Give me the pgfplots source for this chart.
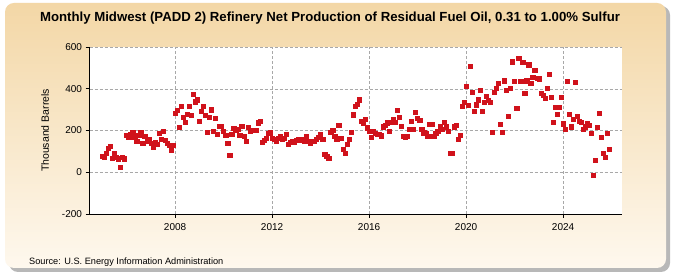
\documentclass[border=0pt]{standalone}
\usepackage{fontspec}
\setmainfont{Liberation Sans}
\usepackage{pgfplots}
\pgfplotsset{compat=1.18}
\usepackage{pgfplotstable}
\definecolor{eiared}{HTML}{D0121B}
\definecolor{paneltop}{HTML}{F3D7A6}
\definecolor{panelbot}{HTML}{FEF8EE}
\definecolor{gridgray}{HTML}{A8A8A8}

% monthly values, thousand barrels
\pgfplotstableread{
yr   m1  m2  m3  m4  m5  m6  m7  m8  m9  m10 m11 m12
2005 77  72  92  114 125 68  90  71  65  25  72  65
2006 179 168 184 192 168 149 176 192 138 173 149 160
2007 138 120 144 133 186 159 197 154 138 128 106 128
2008 281 296 216 316 264 240 278 316 273 374 338 348
2009 245 292 316 272 192 264 300 197 259 181 221 221
2010 197 178 140 82  182 211 202 208 178 219 173 149
2011 216 198 202 202 202 237 246 144 154 163 186 189
2012 163 160 149 163 173 157 163 181 133 144 147 144
2013 154 159 152 160 149 173 149 138 147 149 160 168
2014 181 159 85  78  68  192 202 173 160 224 165 110
2015 90  133 159 192 276 316 327 348 245 237 253 213
2016 197 168 197 186 184 181 175 218 224 237 197 240
2017 253 240 297 264 221 173 168 173 205 245 208 288
2018 259 248 208 189 186 171 230 230 173 186 198 218
2019 205 240 218 197 90  90  218 224 157 176 316 335
2020 412 322 507 383 292 324 348 393 292 335 364 345
2021 335 192 383 402 428 229 192 439 393 268 402 530
2022 436 307 545 436 526 378 439 515 428 455 487 450
2023 448 380 370 354 402 469 358 240 311 278 311 358
2024 233 208 436 278 218 253 431 268 245 240 208 218
2025 233 225 186 -15 57  216 283 168 92  73  186 111
}\prodtab

\begin{document}
\begin{tikzpicture}
\useasboundingbox (0pt,0pt) rectangle (675pt,275pt);
\fill[white] (0pt,0pt) rectangle (675pt,275pt);
% panel with drop shadow
\fill[black!28, rounded corners=9pt] (9pt,3pt) rectangle (670pt,269pt);
\shade[top color=paneltop, bottom color=panelbot, rounded corners=9pt]
  (5pt,7pt) rectangle (666pt,272pt);

\node[font=\bfseries\fontsize{13.2}{15}\selectfont] at (330pt,256.5pt)
  {Monthly Midwest (PADD 2) Refinery Net Production of Residual Fuel Oil, 0.31 to 1.00\% Sulfur};
\node[font=\fontsize{9.2}{11}\selectfont, anchor=west, inner sep=0pt] at (29pt,13pt)
  {Source: U.S. Energy Information Administration};
\node[font=\fontsize{10.5}{12}\selectfont, rotate=90] at (45pt,144.5pt) {Thousand Barrels};

\begin{axis}[
  at={(89.5pt,61pt)}, anchor=south west,
  width=532.5pt, height=167pt, scale only axis,
  xmin=2004.47, xmax=2026.43, ymin=-200, ymax=600,
  xtick={2008,2012,2016,2020,2024}, ytick={-200,0,200,400,600},
  x tick label style={/pgf/number format/1000 sep={}, yshift=-2pt},
  /pgf/number format/assume math mode=true,
  tick label style={font=\fontsize{10}{12}\selectfont},
  axis x line*=bottom, axis y line*=left,
  axis line style={black, line width=0.8pt},
  tick align=outside, major tick length=4pt,
  tick style={black, line width=0.6pt},
  grid=major,
  major grid style={gridgray, dash pattern=on 3pt off 2pt, line width=0.5pt},
  axis background/.style={fill=white},
]
\pgfplotsinvokeforeach{1,...,12}{
  \addplot[only marks, mark=square*, mark size=2.1pt,
           mark options={draw=eiared, fill=eiared}]
    table[x expr={\thisrow{yr}+(#1-1)/12}, y=m#1] {\prodtab};
}
\end{axis}
\end{tikzpicture}
\end{document}
